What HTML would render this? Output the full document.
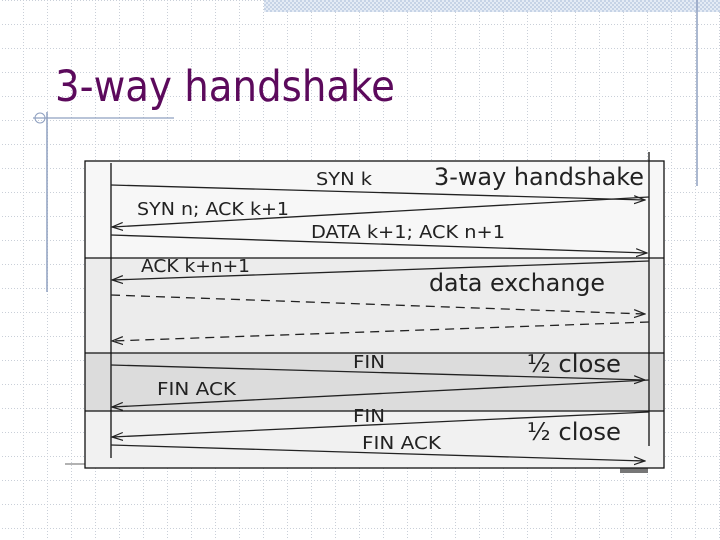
<!DOCTYPE html>
<html><head><meta charset="utf-8"><style>
html,body{margin:0;padding:0;background:#fff}
svg{display:block}
text{font-family:"DejaVu Sans","Liberation Sans",sans-serif}
</style></head><body>
<svg width="720" height="540" viewBox="0 0 720 540" xmlns="http://www.w3.org/2000/svg">
<defs>
<pattern id="grid" width="24" height="24" patternUnits="userSpaceOnUse" x="-1" y="0">
<path d="M0 0.5H24 M0.5 0V24" stroke="#c9cfd8" stroke-width="1" stroke-dasharray="1 2" fill="none"/>
</pattern>
<pattern id="hatch" width="4" height="4" patternUnits="userSpaceOnUse">
<rect width="4" height="4" fill="#e4ebf5"/><rect width="2" height="2" fill="#c6d3e6"/><rect x="2" y="2" width="2" height="2" fill="#c6d3e6"/>
</pattern>
<marker id="ar" markerWidth="12" markerHeight="10" refX="11" refY="5" orient="auto" markerUnits="userSpaceOnUse">
<path d="M0 1 L11 5 L0 9" fill="none" stroke="#222" stroke-width="1.2"/>
</marker>
</defs>
<rect width="720" height="540" fill="#fff"/>
<rect width="720" height="540" fill="url(#grid)"/>
<rect x="264" y="0" width="456" height="12" fill="url(#hatch)"/>
<line x1="697" y1="0" x2="697" y2="186" stroke="#8fa0c0" stroke-width="1.5"/>
<text x="55" y="101" font-size="43" fill="#5c0a5c" textLength="340" lengthAdjust="spacingAndGlyphs">3-way handshake</text>
<line x1="33" y1="118" x2="174" y2="118" stroke="#8fa0c0" stroke-width="1.2"/>
<line x1="47" y1="112" x2="47" y2="292" stroke="#8fa0c0" stroke-width="1.5"/>
<circle cx="40" cy="118" r="5" fill="none" stroke="#8fa0c0"/>
<line x1="65" y1="464" x2="86" y2="464" stroke="#666"/>
<rect x="620" y="466" width="28" height="7" fill="#777"/>

<rect x="85" y="161" width="579" height="97" fill="#f7f7f7"/>
<rect x="85" y="258" width="579" height="95" fill="#ececec"/>
<rect x="85" y="353" width="579" height="58" fill="#dcdcdc"/>
<rect x="85" y="411" width="579" height="57" fill="#f1f1f1"/>
<rect x="85" y="161" width="579" height="307" fill="none" stroke="#111" stroke-width="1.3"/>
<line x1="85" y1="258" x2="664" y2="258" stroke="#111" stroke-width="1.2"/>
<line x1="85" y1="353" x2="664" y2="353" stroke="#111" stroke-width="1.2"/>
<line x1="85" y1="411" x2="664" y2="411" stroke="#111" stroke-width="1.2"/>
<line x1="111" y1="163" x2="111" y2="458" stroke="#111" stroke-width="1.3"/>
<line x1="649" y1="152" x2="649" y2="446" stroke="#111" stroke-width="1.3"/>

<g stroke="#222" stroke-width="1.3" fill="none" marker-end="url(#ar)">
<line x1="111" y1="185" x2="645" y2="200"/>
<line x1="649" y1="197" x2="112" y2="227"/>
<line x1="111" y1="235" x2="647" y2="253"/>
<line x1="649" y1="261" x2="112" y2="280"/>
<line x1="111" y1="295" x2="645" y2="314" stroke-dasharray="9 6"/>
<line x1="649" y1="322" x2="112" y2="341" stroke-dasharray="9 6"/>
<line x1="111" y1="365" x2="645" y2="380"/>
<line x1="649" y1="380" x2="112" y2="407"/>
<line x1="649" y1="412" x2="112" y2="437"/>
<line x1="111" y1="445" x2="645" y2="461"/>
</g>

<g fill="#222" font-size="17.5">
<text x="316" y="185" textLength="56" lengthAdjust="spacingAndGlyphs">SYN k</text>
<text x="137" y="215" textLength="152" lengthAdjust="spacingAndGlyphs">SYN n; ACK k+1</text>
<text x="311" y="238" textLength="194" lengthAdjust="spacingAndGlyphs">DATA k+1; ACK n+1</text>
<text x="141" y="272" textLength="109" lengthAdjust="spacingAndGlyphs">ACK k+n+1</text>
<text x="353" y="368" textLength="32" lengthAdjust="spacingAndGlyphs">FIN</text>
<text x="157" y="395" textLength="79" lengthAdjust="spacingAndGlyphs">FIN ACK</text>
<text x="353" y="422" textLength="32" lengthAdjust="spacingAndGlyphs">FIN</text>
<text x="362" y="449" textLength="79" lengthAdjust="spacingAndGlyphs">FIN ACK</text>
</g>
<g fill="#222" font-size="24">
<text x="434" y="185" textLength="210" lengthAdjust="spacingAndGlyphs">3-way handshake</text>
<text x="429" y="291" textLength="176" lengthAdjust="spacingAndGlyphs">data exchange</text>
<text x="527" y="372" textLength="94" lengthAdjust="spacingAndGlyphs">½ close</text>
<text x="527" y="440" textLength="94" lengthAdjust="spacingAndGlyphs">½ close</text>
</g>
</svg>
</body></html>
